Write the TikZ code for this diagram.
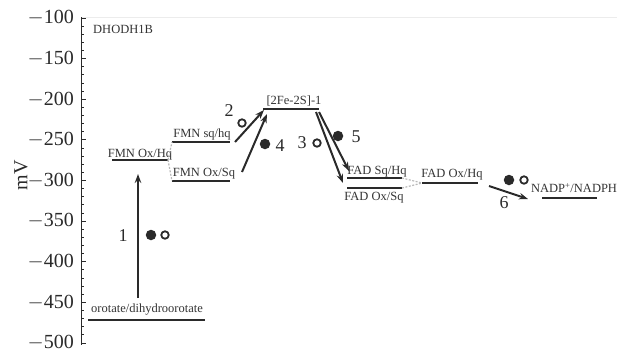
\documentclass[tikz,border=0pt]{standalone}
\usepackage{fontspec}
\setmainfont{Liberation Serif}
\usetikzlibrary{arrows.meta}
\definecolor{ink}{HTML}{2A2A2A}
\definecolor{txt}{HTML}{333333}
\begin{document}
\begin{tikzpicture}[x=1pt,y=-1pt,
  level/.style={draw=ink,line width=2.2pt},
  lvltxt/.style={text=txt,font=\fontsize{12.5}{14}\selectfont,anchor=base,inner sep=0pt},
  ticktxt/.style={text=ink,font=\fontsize{20}{22}\selectfont,anchor=east,inner sep=0pt},
  numtxt/.style={text=ink,font=\fontsize{18}{20}\selectfont,inner sep=0pt},
  reac/.style={draw=ink,line width=2pt,-{Stealth[length=9pt,width=6.5pt]}},
  link/.style={draw=gray!55,line width=1.2pt,dash pattern=on 2pt off 1.5pt},
  fdot/.style={circle,fill=ink,inner sep=0pt,minimum size=10.5pt},
  odot/.style={circle,draw=ink,line width=1.8pt,fill=white,inner sep=0pt,minimum size=7.5pt}]
\useasboundingbox (0,0) rectangle (617,354);
% frame top
\draw[gray!15,line width=0.8pt] (81,17) -- (617,17);
% axis
\draw[ink,line width=1pt] (81,17) -- (81,345);
\foreach \v in {100,110,...,500}{
  \pgfmathsetmacro{\yy}{18+(\v-100)*0.8125}
  \pgfmathtruncatemacro{\mm}{mod(\v,50)}
  \ifnum\mm=0
    \draw[ink,line width=1pt] (81,\yy) -- (86,\yy);
    \node[ticktxt] (t\v) at (74,\yy) {$-$\v};
  \else
    \draw[ink,line width=0.9pt] (81,\yy) -- (84,\yy);
  \fi
}
\node[text=ink,font=\fontsize{20}{22}\selectfont,rotate=90,inner sep=0pt] (mv) at (21,175) {mV};
\node[text=txt,font=\fontsize{12.5}{14}\selectfont,anchor=base west,inner sep=0pt] (title) at (93,33) {DHODH1B};

% levels
\coordinate (orotL) at (88,320);  \coordinate (orotR) at (205,320);
\coordinate (fohL) at (112,160);  \coordinate (fohR) at (168,160);
\coordinate (fshL) at (172,142);  \coordinate (fshR) at (230,142);
\coordinate (fosL) at (172,181);  \coordinate (fosR) at (230,181);
\coordinate (feL) at (263,109);   \coordinate (feR) at (319,109);
\coordinate (dshL) at (347,178);  \coordinate (dshR) at (402,178);
\coordinate (dosL) at (347,188);  \coordinate (dosR) at (402,188);
\coordinate (dohL) at (422,183);  \coordinate (dohR) at (478,183);
\coordinate (naL) at (542,198);   \coordinate (naR) at (597,198);
\foreach \a/\b in {orotL/orotR,fohL/fohR,fshL/fshR,fosL/fosR,feL/feR,dshL/dshR,dosL/dosR,dohL/dohR,naL/naR}
  \draw[level] (\a) -- (\b);

\node[lvltxt] (orottxt) at (147,312.5) {orotate/dihydroorotate};
\node[lvltxt] (fohtxt) at (140,157.3) {FMN Ox/Hq};
\node[lvltxt] (fshtxt) at (202,137.3) {FMN sq/hq};
\node[lvltxt] (fostxt) at (204,176.7) {FMN Ox/Sq};
\node[lvltxt] (fetxt) at (294,104) {[2Fe-2S]-1};
\node[lvltxt] (dshtxt) at (377,174.3) {FAD Sq/Hq};
\node[lvltxt] (dostxt) at (374,200.5) {FAD Ox/Sq};
\node[lvltxt] (dohtxt) at (452,177.7) {FAD Ox/Hq};
\node[lvltxt] (natxt) at (574,192.7) {NADP\textsuperscript{+}/NADPH};

% dashed links
\draw[link] (fohR) -- (fshL);
\draw[link] (fohR) -- (fosL);
\draw[link] (dshR) -- (dohL);
\draw[link] (dosR) -- (dohL);

% reaction arrows
\coordinate (a1s) at (138,298); \coordinate (a1e) at (138,174);
\coordinate (a2s) at (235,142); \coordinate (a2e) at (264,110);
\coordinate (a4s) at (242,172); \coordinate (a4e) at (267,114);
\coordinate (a3s) at (316,112); \coordinate (a3e) at (343,183);
\coordinate (a5s) at (319,112); \coordinate (a5e) at (349,171);
\coordinate (a6s) at (489,186); \coordinate (a6e) at (528,199);
\foreach \s/\e in {a1s/a1e,a2s/a2e,a4s/a4e,a3s/a3e,a5s/a5e,a6s/a6e}
  \draw[reac] (\s) -- (\e);

% numbers and electron symbols
\node[numtxt] (n1) at (123,236) {1};
\node[fdot] (f1) at (151,235) {};
\node[odot] (o1) at (165,235) {};
\node[numtxt] (n2) at (229,111) {2};
\node[odot] (o2) at (242,123) {};
\node[fdot] (f4) at (265,144) {};
\node[numtxt] (n4) at (280,146) {4};
\node[numtxt] (n3) at (302,143) {3};
\node[odot] (o3) at (317,143) {};
\node[fdot] (f5) at (338,136) {};
\node[numtxt] (n5) at (356,137) {5};
\node[fdot] (f6) at (509,180) {};
\node[odot] (o6) at (524,180) {};
\node[numtxt] (n6) at (504,203) {6};
\end{tikzpicture}
\end{document}
